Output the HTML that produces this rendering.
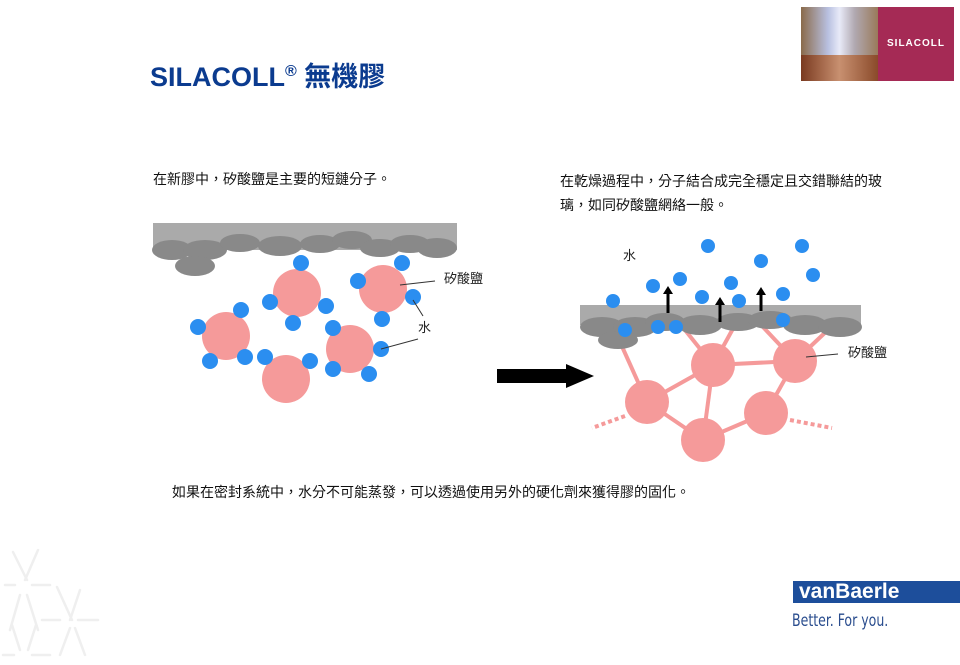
<!DOCTYPE html>
<html><head><meta charset="utf-8"><style>
body{margin:0;width:960px;height:665px;background:#fff;overflow:hidden;position:relative;font-family:"Liberation Sans","Noto Sans CJK TC",sans-serif}
.t{position:absolute;font-size:14px;color:#111;white-space:nowrap}
</style></head><body>
<div style="position:absolute;left:150px;top:55px;font-size:27px;font-weight:bold;color:#0b3b8f;white-space:nowrap">SILACOLL<sup style="font-size:16px;vertical-align:10px">®</sup> 無機膠</div>
<div style="position:absolute;left:801px;top:7px;width:77px;height:74px;background:linear-gradient(90deg,#8a6a4a,#b8c0e0 35%,#e8eaf8 50%,#b0a8b0 70%,#9a7a5a);"></div>
<div style="position:absolute;left:801px;top:55px;width:77px;height:26px;background:linear-gradient(90deg,#7a3a20,#c89070 50%,#8a4a2a)"></div>
<div style="position:absolute;left:878px;top:7px;width:76px;height:74px;background:#a52a55;color:#fff;font-size:10px;font-weight:bold;letter-spacing:1px;text-align:center;line-height:74px">SILACOLL</div>
<div class="t" style="left:153px;top:169px">在新膠中，矽酸鹽是主要的短鏈分子。</div>
<div class="t" style="left:560px;top:169px;line-height:24px">在乾燥過程中，分子結合成完全穩定且交錯聯結的玻<br>璃，如同矽酸鹽網絡一般。</div>
<div class="t" style="left:172px;top:482px">如果在密封系統中，水分不可能蒸發，可以透過使用另外的硬化劑來獲得膠的固化。</div>
<svg width="960" height="665" style="position:absolute;left:0;top:0">
<g fill="#898989">
<rect x="153" y="223" width="304" height="27" fill="#aaa"/>
<ellipse cx="172" cy="250" rx="20" ry="10"/><ellipse cx="205" cy="250" rx="22" ry="10"/><ellipse cx="195" cy="266" rx="20" ry="10"/>
<ellipse cx="240" cy="243" rx="20" ry="9"/><ellipse cx="280" cy="246" rx="22" ry="10"/><ellipse cx="320" cy="244" rx="20" ry="9"/><ellipse cx="352" cy="240" rx="20" ry="9"/><ellipse cx="380" cy="248" rx="20" ry="9"/><ellipse cx="410" cy="244" rx="20" ry="9"/><ellipse cx="437" cy="248" rx="20" ry="10"/>
</g>
<g fill="#f59a9a"><circle cx="297" cy="293" r="24"/><circle cx="383" cy="289" r="24"/><circle cx="226" cy="336" r="24"/><circle cx="350" cy="349" r="24"/><circle cx="286" cy="379" r="24"/></g>
<g fill="#2b8ef0">
<circle cx="301" cy="263" r="8"/><circle cx="270" cy="302" r="8"/><circle cx="293" cy="323" r="8"/><circle cx="326" cy="306" r="8"/><circle cx="358" cy="281" r="8"/><circle cx="402" cy="263" r="8"/><circle cx="413" cy="297" r="8"/><circle cx="382" cy="319" r="8"/><circle cx="198" cy="327" r="8"/><circle cx="241" cy="310" r="8"/><circle cx="210" cy="361" r="8"/><circle cx="245" cy="357" r="8"/><circle cx="265" cy="357" r="8"/><circle cx="310" cy="361" r="8"/><circle cx="333" cy="328" r="8"/><circle cx="381" cy="349" r="8"/><circle cx="333" cy="369" r="8"/><circle cx="369" cy="374" r="8"/>
</g>
<g stroke="#333" stroke-width="1"><line x1="400" y1="285" x2="435" y2="281"/><line x1="413" y1="300" x2="423" y2="316"/><line x1="381" y1="349" x2="418" y2="339"/></g>
<text x="444" y="283" font-size="13" fill="#222">矽酸鹽</text><text x="418" y="332" font-size="13" fill="#222">水</text>
<rect x="497" y="369" width="72" height="14" fill="#000"/><polygon points="566,364 594,376 566,388" fill="#000"/>
<rect x="580" y="305" width="281" height="20" fill="#aaa"/>
<g stroke="#f59a9a" stroke-width="4">
<line x1="713" y1="365" x2="647" y2="402"/><line x1="713" y1="365" x2="795" y2="361"/><line x1="713" y1="365" x2="703" y2="440"/><line x1="795" y1="361" x2="766" y2="413"/><line x1="766" y1="413" x2="703" y2="440"/><line x1="647" y1="402" x2="703" y2="440"/><line x1="713" y1="365" x2="735" y2="325"/><line x1="795" y1="361" x2="830" y2="328"/><line x1="795" y1="361" x2="763" y2="327"/><line x1="647" y1="402" x2="620" y2="342"/><line x1="685" y1="330" x2="713" y2="365"/>
<line x1="625" y1="416" x2="592" y2="428" stroke-dasharray="4 3"/><line x1="790" y1="420" x2="832" y2="428" stroke-dasharray="4 3"/>
</g>
<g fill="#898989">
<ellipse cx="602" cy="327" rx="22" ry="10"/><ellipse cx="635" cy="327" rx="22" ry="10"/><ellipse cx="618" cy="340" rx="20" ry="9"/><ellipse cx="665" cy="322" rx="20" ry="9"/><ellipse cx="700" cy="325" rx="22" ry="10"/><ellipse cx="738" cy="322" rx="22" ry="9"/><ellipse cx="770" cy="320" rx="22" ry="9"/><ellipse cx="805" cy="325" rx="22" ry="10"/><ellipse cx="840" cy="327" rx="22" ry="10"/>
</g>
<g fill="#f59a9a"><circle cx="713" cy="365" r="22"/><circle cx="795" cy="361" r="22"/><circle cx="647" cy="402" r="22"/><circle cx="766" cy="413" r="22"/><circle cx="703" cy="440" r="22"/></g>
<g fill="#2b8ef0">
<circle cx="708" cy="246" r="7"/><circle cx="802" cy="246" r="7"/><circle cx="761" cy="261" r="7"/><circle cx="813" cy="275" r="7"/><circle cx="653" cy="286" r="7"/><circle cx="680" cy="279" r="7"/><circle cx="731" cy="283" r="7"/><circle cx="613" cy="301" r="7"/><circle cx="702" cy="297" r="7"/><circle cx="739" cy="301" r="7"/><circle cx="783" cy="294" r="7"/><circle cx="625" cy="330" r="7"/><circle cx="658" cy="327" r="7"/><circle cx="676" cy="327" r="7"/><circle cx="783" cy="320" r="7"/>
</g>
<g stroke="#000" stroke-width="3"><line x1="668" y1="313" x2="668" y2="292"/><line x1="720" y1="322" x2="720" y2="303"/><line x1="761" y1="311" x2="761" y2="293"/></g>
<g fill="#000"><polygon points="663,294 668,286 673,294"/><polygon points="715,305 720,297 725,305"/><polygon points="756,295 761,287 766,295"/></g>
<line x1="806" y1="357" x2="838" y2="354" stroke="#333"/>
<text x="623" y="260" font-size="13" fill="#222">水</text><text x="848" y="357" font-size="13" fill="#222">矽酸鹽</text>
<g stroke="#efefef" stroke-width="2.5" stroke-linecap="round" fill="none">
<line x1="13" y1="552" x2="27" y2="580"/><line x1="38" y1="550" x2="25" y2="580"/><line x1="5" y1="585" x2="15" y2="585"/><line x1="32" y1="585" x2="50" y2="585"/><line x1="57" y1="587" x2="72" y2="620"/><line x1="80" y1="590" x2="70" y2="620"/><line x1="42" y1="620" x2="60" y2="620"/><line x1="78" y1="620" x2="98" y2="620"/><line x1="20" y1="595" x2="10" y2="630"/><line x1="27" y1="595" x2="38" y2="630"/><line x1="70" y1="628" x2="60" y2="655"/><line x1="75" y1="628" x2="85" y2="655"/><line x1="12" y1="625" x2="20" y2="650"/><line x1="36" y1="625" x2="28" y2="650"/><line x1="3" y1="655" x2="14" y2="655"/><line x1="32" y1="655" x2="50" y2="655"/></g>
</svg>
<div style="position:absolute;left:793px;top:581px;width:167px;height:22px;background:#1d4e9b;color:#fff;font-weight:bold;font-size:21px;line-height:22px;padding-left:6px;box-sizing:border-box">vanBaerle</div>
<div style="position:absolute;left:792px;top:611px;font-family:'DejaVu Sans Condensed','Liberation Sans Narrow',sans-serif;font-size:17px;color:#2a4d8e;transform:scaleX(0.82);transform-origin:left">Better. For you.</div>
</body></html>
